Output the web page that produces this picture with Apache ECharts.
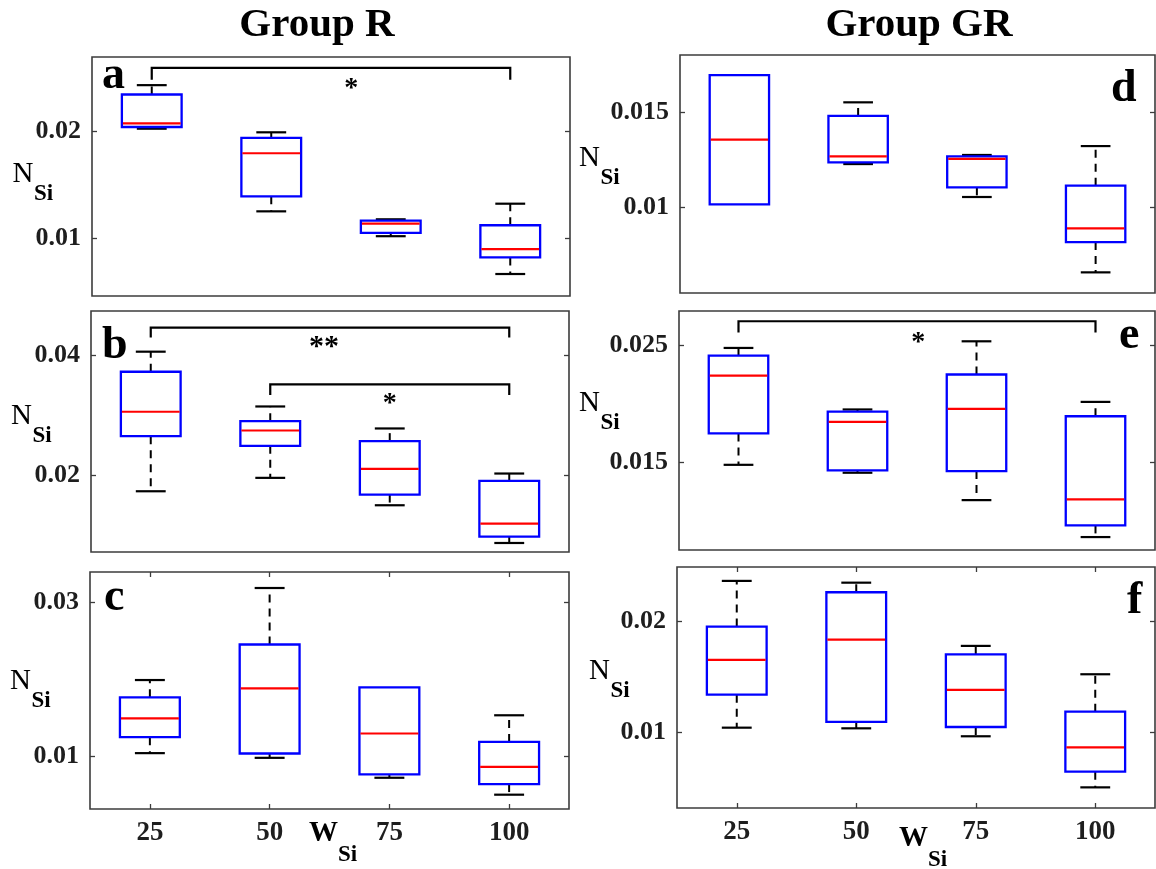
<!DOCTYPE html>
<html>
<head>
<meta charset="utf-8">
<script src="https://cdn.jsdelivr.net/npm/echarts@6/dist/echarts.min.js"></script>
<style>
  html, body { margin: 0; padding: 0; background: #ffffff; }
  #chart { width: 1156px; height: 869px; }
</style>
</head>
<body>
<div id="chart"></div>
<script>
// W_Si levels on the horizontal axis
const wSi = ['25', '50', '75', '100'];

// Box summaries per level: [lower whisker, Q1, median, Q3, upper whisker]
const groupR_a = [
  [0.02028, 0.02044, 0.02078, 0.02350, 0.02438],
  [0.01250, 0.01391, 0.01797, 0.01941, 0.01994],
  [0.01016, 0.01047, 0.01134, 0.01163, 0.01175],
  [0.00660, 0.00816, 0.00894, 0.01119, 0.01322]
];
const groupR_b = [
  [0.01733, 0.02650, 0.03056, 0.03722, 0.04056],
  [0.01956, 0.02489, 0.02744, 0.02900, 0.03144],
  [0.01500, 0.01678, 0.02106, 0.02567, 0.02778],
  [0.00872, 0.00978, 0.01194, 0.01906, 0.02028]
];
const groupR_c = [
  [0.01035, 0.01242, 0.01488, 0.01760, 0.01985],
  [0.00974, 0.01030, 0.01877, 0.02447, 0.03181],
  [0.00715, 0.00758, 0.01290, 0.01890, 0.01890],
  [0.00495, 0.00633, 0.00857, 0.01181, 0.01527]
];
const groupGR_d = [
  [0.01014, 0.01014, 0.01356, 0.01697, 0.01697],
  [0.01227, 0.01236, 0.01268, 0.01481, 0.01553],
  [0.01053, 0.01104, 0.01254, 0.01268, 0.01275],
  [0.00655, 0.00815, 0.00887, 0.01113, 0.01322]
];
const groupGR_e = [
  [0.01474, 0.01743, 0.02240, 0.02411, 0.02477],
  [0.01406, 0.01426, 0.01843, 0.01931, 0.01949],
  [0.01171, 0.01420, 0.01954, 0.02249, 0.02534],
  [0.00854, 0.00954, 0.01177, 0.01891, 0.02014]
];
const groupGR_f = [
  [0.01039, 0.01338, 0.01653, 0.01955, 0.02369],
  [0.01033, 0.01091, 0.01837, 0.02266, 0.02353],
  [0.00961, 0.01045, 0.01381, 0.01704, 0.01780],
  [0.00498, 0.00640, 0.00861, 0.01184, 0.01523]
];

// N_Si tick values per panel
const ticks_a = [0.01, 0.02];
const ticks_b = [0.02, 0.04];
const ticks_c = [0.01, 0.03];
const ticks_d = [0.01, 0.015];
const ticks_e = [0.015, 0.025];
const ticks_f = [0.01, 0.02];

// N_Si axis limits per panel
const range_a = [0.00453, 0.02703];
const range_b = [0.00722, 0.04733];
const range_c = [0.00309, 0.03389];
const range_d = [0.00546, 0.01803];
const range_e = [0.00743, 0.02794];
const range_f = [0.00311, 0.02495];

// Significance brackets: compared levels, bracket height, leg end, marker text and its anchor
const sig_a = [{ from: 1, to: 4, level: 0.0260, leg: 0.0249, mark: '*', markX: 2.67, markY: 0.0246 }];
const sig_b = [
  { from: 1, to: 4, level: 0.04456, leg: 0.04290, mark: '**', markX: 2.45, markY: 0.04222 },
  { from: 2, to: 4, level: 0.03511, leg: 0.03333, mark: '*', markX: 3.00, markY: 0.03278 }
];
const sig_c = [];
const sig_d = [];
const sig_e = [{ from: 1, to: 4, level: 0.02706, leg: 0.02609, mark: '*', markX: 2.51, markY: 0.02571 }];
const sig_f = [];

const SERIF = '"Liberation Serif", "Times New Roman", serif';
const INK = '#1e1e1e';
const FRAME = '#3c3c3c';

const panels = [
  { letter: 'a', boxes: groupR_a, ticks: ticks_a, range: range_a, sig: sig_a, xLabels: false,
    rect: { left: 92, top: 57, width: 478, height: 239 }, letterPos: [102, 90],
    nPos: [12.5, 183] },
  { letter: 'b', boxes: groupR_b, ticks: ticks_b, range: range_b, sig: sig_b, xLabels: false,
    rect: { left: 91, top: 311, width: 478, height: 241 }, letterPos: [102, 360],
    nPos: [11, 425] },
  { letter: 'c', boxes: groupR_c, ticks: ticks_c, range: range_c, sig: sig_c, xLabels: true,
    rect: { left: 90, top: 572, width: 479, height: 237 }, letterPos: [104, 612],
    nPos: [10, 690], wPos: [309, 842] },
  { letter: 'd', boxes: groupGR_d, ticks: ticks_d, range: range_d, sig: sig_d, xLabels: false,
    rect: { left: 680, top: 55, width: 475, height: 238 }, letterPos: [1111, 103],
    nPos: [579, 167] },
  { letter: 'e', boxes: groupGR_e, ticks: ticks_e, range: range_e, sig: sig_e, xLabels: false,
    rect: { left: 679, top: 311, width: 476, height: 239 }, letterPos: [1119, 350],
    nPos: [579, 412] },
  { letter: 'f', boxes: groupGR_f, ticks: ticks_f, range: range_f, sig: sig_f, xLabels: true,
    rect: { left: 677, top: 567, width: 478, height: 241 }, letterPos: [1127, 615],
    nPos: [589, 680], wPos: [899, 847] }
];

const levelIdx = wSi.map((_, i) => i + 1);

function tickLabelStyle(size) {
  return { fontFamily: SERIF, fontWeight: 'bold', fontSize: size, color: INK };
}

// Box-and-whisker glyph: dashed black whiskers, black caps, blue box, red median
function renderBox(params, api) {
  const x = api.value(0);
  const lo = api.coord([x, api.value(1)]);
  const q1 = api.coord([x, api.value(2)]);
  const md = api.coord([x, api.value(3)]);
  const q3 = api.coord([x, api.value(4)]);
  const hi = api.coord([x, api.value(5)]);
  const unit = api.size([1, 0])[0];
  const bw = unit * 0.5;
  const cw = unit * 0.25;
  const cx = lo[0];
  const whisker = { stroke: '#000', lineWidth: 2, lineDash: [8, 6] };
  const cap = { stroke: '#000', lineWidth: 2.2 };
  const children = [];
  // whiskers and caps only where they reach beyond the box
  if (hi[1] < q3[1] - 0.5) {
    children.push({ type: 'line', shape: { x1: cx, y1: q3[1], x2: cx, y2: hi[1] }, style: whisker });
    children.push({ type: 'line', shape: { x1: cx - cw / 2, y1: hi[1], x2: cx + cw / 2, y2: hi[1] }, style: cap });
  }
  if (lo[1] > q1[1] + 0.5) {
    children.push({ type: 'line', shape: { x1: cx, y1: q1[1], x2: cx, y2: lo[1] }, style: whisker });
    children.push({ type: 'line', shape: { x1: cx - cw / 2, y1: lo[1], x2: cx + cw / 2, y2: lo[1] }, style: cap });
  }
  children.push({
    type: 'rect',
    shape: { x: cx - bw / 2, y: q3[1], width: bw, height: q1[1] - q3[1] },
    style: { fill: 'none', stroke: '#0000ff', lineWidth: 2.3 }
  });
  children.push({
    type: 'line',
    shape: { x1: cx - bw / 2 + 1, y1: md[1], x2: cx + bw / 2 - 1, y2: md[1] },
    style: { stroke: '#ff0000', lineWidth: 2.2 }
  });
  return { type: 'group', children };
}

// Significance bracket with its star marker
function makeBracketRenderer(list) {
  return function (params, api) {
    const b = list[params.dataIndex];
    const p0 = api.coord([b.from, b.leg]);
    const p1 = api.coord([b.from, b.level]);
    const p2 = api.coord([b.to, b.level]);
    const p3 = api.coord([b.to, b.leg]);
    const m = api.coord([b.markX, b.markY]);
    const size = b.mark.length > 1 ? 30 : 28;
    return {
      type: 'group',
      children: [
        {
          type: 'polyline',
          shape: { points: [p0, p1, p2, p3] },
          style: { stroke: '#000', lineWidth: 2.2, fill: 'none' }
        },
        {
          type: 'text',
          x: m[0],
          y: m[1] + size * 0.2,
          style: {
            text: b.mark,
            font: 'bold ' + size + 'px ' + SERIF,
            fill: '#000',
            textAlign: 'center',
            textVerticalAlign: 'middle'
          }
        }
      ]
    };
  };
}

const grid = [];
const xAxis = [];
const yAxis = [];
const series = [];
const graphic = [];

function textAt(text, x, baseline, size, weight, align) {
  // place text so that its alphabetic baseline sits at `baseline`
  return {
    type: 'text',
    x: x,
    y: baseline - size * 0.305,
    style: {
      text: text,
      font: (weight || 'normal') + ' ' + size + 'px ' + SERIF,
      fill: '#000',
      textAlign: align || 'left',
      textVerticalAlign: 'middle'
    }
  };
}

panels.forEach((p, gi) => {
  grid.push(Object.assign({
    show: true, borderColor: FRAME, borderWidth: 1.6, backgroundColor: 'transparent'
  }, p.rect));

  const xCommon = {
    type: 'value', gridIndex: gi, min: 0.5, max: 4.5,
    axisLine: { show: false }, splitLine: { show: false }
  };
  xAxis.push(Object.assign({}, xCommon, {
    position: 'bottom',
    axisTick: { show: p.xLabels, inside: true, length: 5, customValues: levelIdx,
      lineStyle: { color: FRAME, width: 1.3 } },
    axisLabel: Object.assign({
      show: p.xLabels, customValues: levelIdx, margin: 11,
      formatter: v => wSi[Math.round(v) - 1]
    }, tickLabelStyle(27))
  }));
  xAxis.push(Object.assign({}, xCommon, {
    position: 'top',
    axisTick: { show: p.xLabels, inside: true, length: 5, customValues: levelIdx,
      lineStyle: { color: FRAME, width: 1.3 } },
    axisLabel: { show: false }
  }));

  const yCommon = {
    type: 'value', gridIndex: gi, min: p.range[0], max: p.range[1],
    axisLine: { show: false }, splitLine: { show: false }
  };
  yAxis.push(Object.assign({}, yCommon, {
    position: 'left',
    axisTick: { show: true, inside: true, length: 5, customValues: p.ticks,
      lineStyle: { color: FRAME, width: 1.3 } },
    axisLabel: Object.assign({
      customValues: p.ticks, margin: 11, formatter: v => String(v)
    }, tickLabelStyle(26))
  }));
  yAxis.push(Object.assign({}, yCommon, {
    position: 'right',
    axisTick: { show: true, inside: true, length: 5, customValues: p.ticks,
      lineStyle: { color: FRAME, width: 1.3 } },
    axisLabel: { show: false }
  }));

  series.push({
    type: 'custom',
    name: 'box-' + p.letter,
    xAxisIndex: gi * 2,
    yAxisIndex: gi * 2,
    renderItem: renderBox,
    encode: { x: 0, y: [1, 2, 3, 4, 5] },
    data: p.boxes.map((row, i) => [i + 1].concat(row)),
    silent: true
  });

  if (p.sig.length) {
    series.push({
      type: 'custom',
      name: 'sig-' + p.letter,
      xAxisIndex: gi * 2,
      yAxisIndex: gi * 2,
      renderItem: makeBracketRenderer(p.sig),
      encode: { x: [0, 1], y: [2, 3] },
      data: p.sig.map(b => [b.from, b.to, b.level, b.leg]),
      silent: true
    });
  }

  // panel letter
  graphic.push(textAt(p.letter, p.letterPos[0], p.letterPos[1], 46, 'bold'));
  // N_Si axis title
  graphic.push(textAt('N', p.nPos[0], p.nPos[1], 29, 'normal'));
  graphic.push(textAt('Si', p.nPos[0] + 21.5, p.nPos[1] + 18, 23, 'bold'));
  // W_Si axis title
  if (p.wPos) {
    graphic.push(textAt('W', p.wPos[0], p.wPos[1], 29, 'bold'));
    graphic.push(textAt('Si', p.wPos[0] + 29, p.wPos[1] + 20, 23, 'bold'));
  }
});

// column headings
graphic.push(textAt('Group R', 317, 38, 41, 'bold', 'center'));
graphic.push(textAt('Group GR', 919, 38, 41, 'bold', 'center'));

const chart = echarts.init(document.getElementById('chart'), null, { renderer: 'canvas' });
chart.setOption({
  backgroundColor: '#ffffff',
  animation: false,
  grid: grid,
  xAxis: xAxis,
  yAxis: yAxis,
  series: series,
  graphic: graphic
});
</script>
</body>
</html>
